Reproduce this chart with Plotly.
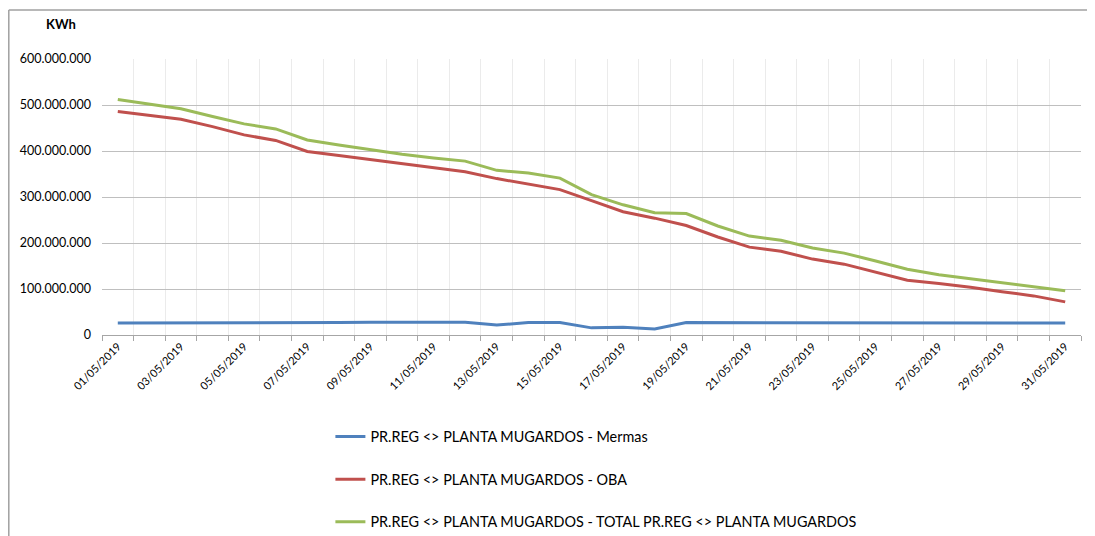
import plotly.graph_objects as go

dates = [f"{d:02d}/05/2019" for d in range(1, 32)]

mermas = [26, 26, 25.5, 25.5, 26, 26, 27, 27, 27.5, 27.5, 26.5, 27.5, 21.5, 27, 27, 15.5, 17, 13, 27, 27, 27, 27, 27, 26.5, 26, 26, 26.5, 26.5, 26, 26, 26]
oba = [486, 478, 469, 453, 435, 423, 399, 390, 381, 372, 364, 355, 340, 328, 316, 292, 268, 254, 238, 213, 191, 182, 165, 154, 136, 119, 112, 104, 94, 85, 72]
total = [512, 502, 492, 475, 459, 448, 424, 413, 403, 393, 385, 378, 358, 352, 341, 305, 283, 266, 264, 237, 215, 206, 189, 178, 161, 143, 131, 122, 113, 105, 96]

names = [
    "PR.REG <> PLANTA MUGARDOS - Mermas",
    "PR.REG <> PLANTA MUGARDOS - OBA",
    "PR.REG <> PLANTA MUGARDOS - TOTAL PR.REG <> PLANTA MUGARDOS",
]
colors = ["#4F81BD", "#C0504D", "#9BBB59"]
series = [mermas, oba, total]

ytick_vals = [0, 100e6, 200e6, 300e6, 400e6, 500e6, 600e6]

# The page body has an 8px margin, so the figure is drawn at offset (8, 8).
OFF = 8
W, H = 1095 - OFF, 536 - OFF
PL, PR, PT, PB = 102 - OFF, 1081 - OFF, 59 - OFF, 335.5 - OFF  # plot area in figure px
pw, ph = PR - PL, PB - PT


def px(xp):
    return (xp - OFF - PL) / pw


def py(yp):
    return (PB - (yp - OFF)) / ph


xs = list(range(len(dates)))
fig = go.Figure()
for i, (nm, col, vals) in enumerate(zip(names, colors, series)):
    fig.add_trace(go.Scatter(
        x=xs, y=[v * 1e6 for v in vals], name=nm, mode="lines",
        line=dict(color=col, width=3), legendgroup=f"g{i}",
    ))

fig.update_layout(
    width=W, height=H,
    margin=dict(l=PL, r=W - PR, t=PT, b=H - PB, autoexpand=False),
    paper_bgcolor="white", plot_bgcolor="white",
    separators=",.",
    font=dict(family="Lato, Carlito, Calibri, sans-serif", color="#000000"),
    showlegend=True,
    legend=dict(
        x=0.2333, y=-0.31, xanchor="left", yanchor="top",
        orientation="v", traceorder="grouped", tracegroupgap=21,
        font=dict(size=14.4, color="#000000"), itemwidth=30,
        bgcolor="rgba(0,0,0,0)",
    ),
    xaxis=dict(
        range=[-0.5, len(dates) - 0.5],
        tickmode="array", tickvals=xs[::2], ticktext=dates[::2],
        tickangle=-45, tickfont=dict(size=11),
        showgrid=False, ticks="", zeroline=False,
        showline=True, linecolor="#A6A6A6", linewidth=1,
        minor=dict(tickmode="linear", tick0=-0.5, dtick=1, ticks="outside",
                   ticklen=5, tickcolor="#A6A6A6", showgrid=True,
                   gridcolor="#EBEBEB", gridwidth=1),
        fixedrange=True,
    ),
    yaxis=dict(
        range=[0, 600e6], tickvals=ytick_vals, tickformat=",d",
        tickfont=dict(size=12.5), showgrid=True, gridcolor="#BFBFBF",
        gridwidth=1, zeroline=False, showline=False, ticks="",
        ticklabelstandoff=10, fixedrange=True,
    ),
)

fig.add_annotation(
    text="<b>KWh</b>", xref="paper", yref="paper",
    x=px(61), y=py(24),
    showarrow=False, font=dict(size=13, color="#000000"),
    xanchor="center", yanchor="middle",
)

# outer chart frame (left and top edges visible)
fig.add_shape(type="line", xref="paper", yref="paper",
              x0=px(8.8), x1=px(1110), y0=py(10), y1=py(10),
              line=dict(color="#A0A0A0", width=1.5))
fig.add_shape(type="line", xref="paper", yref="paper",
              x0=px(8.8), x1=px(8.8), y0=py(10), y1=py(545),
              line=dict(color="#A0A0A0", width=1.5))

fig.write_html("out.html")
